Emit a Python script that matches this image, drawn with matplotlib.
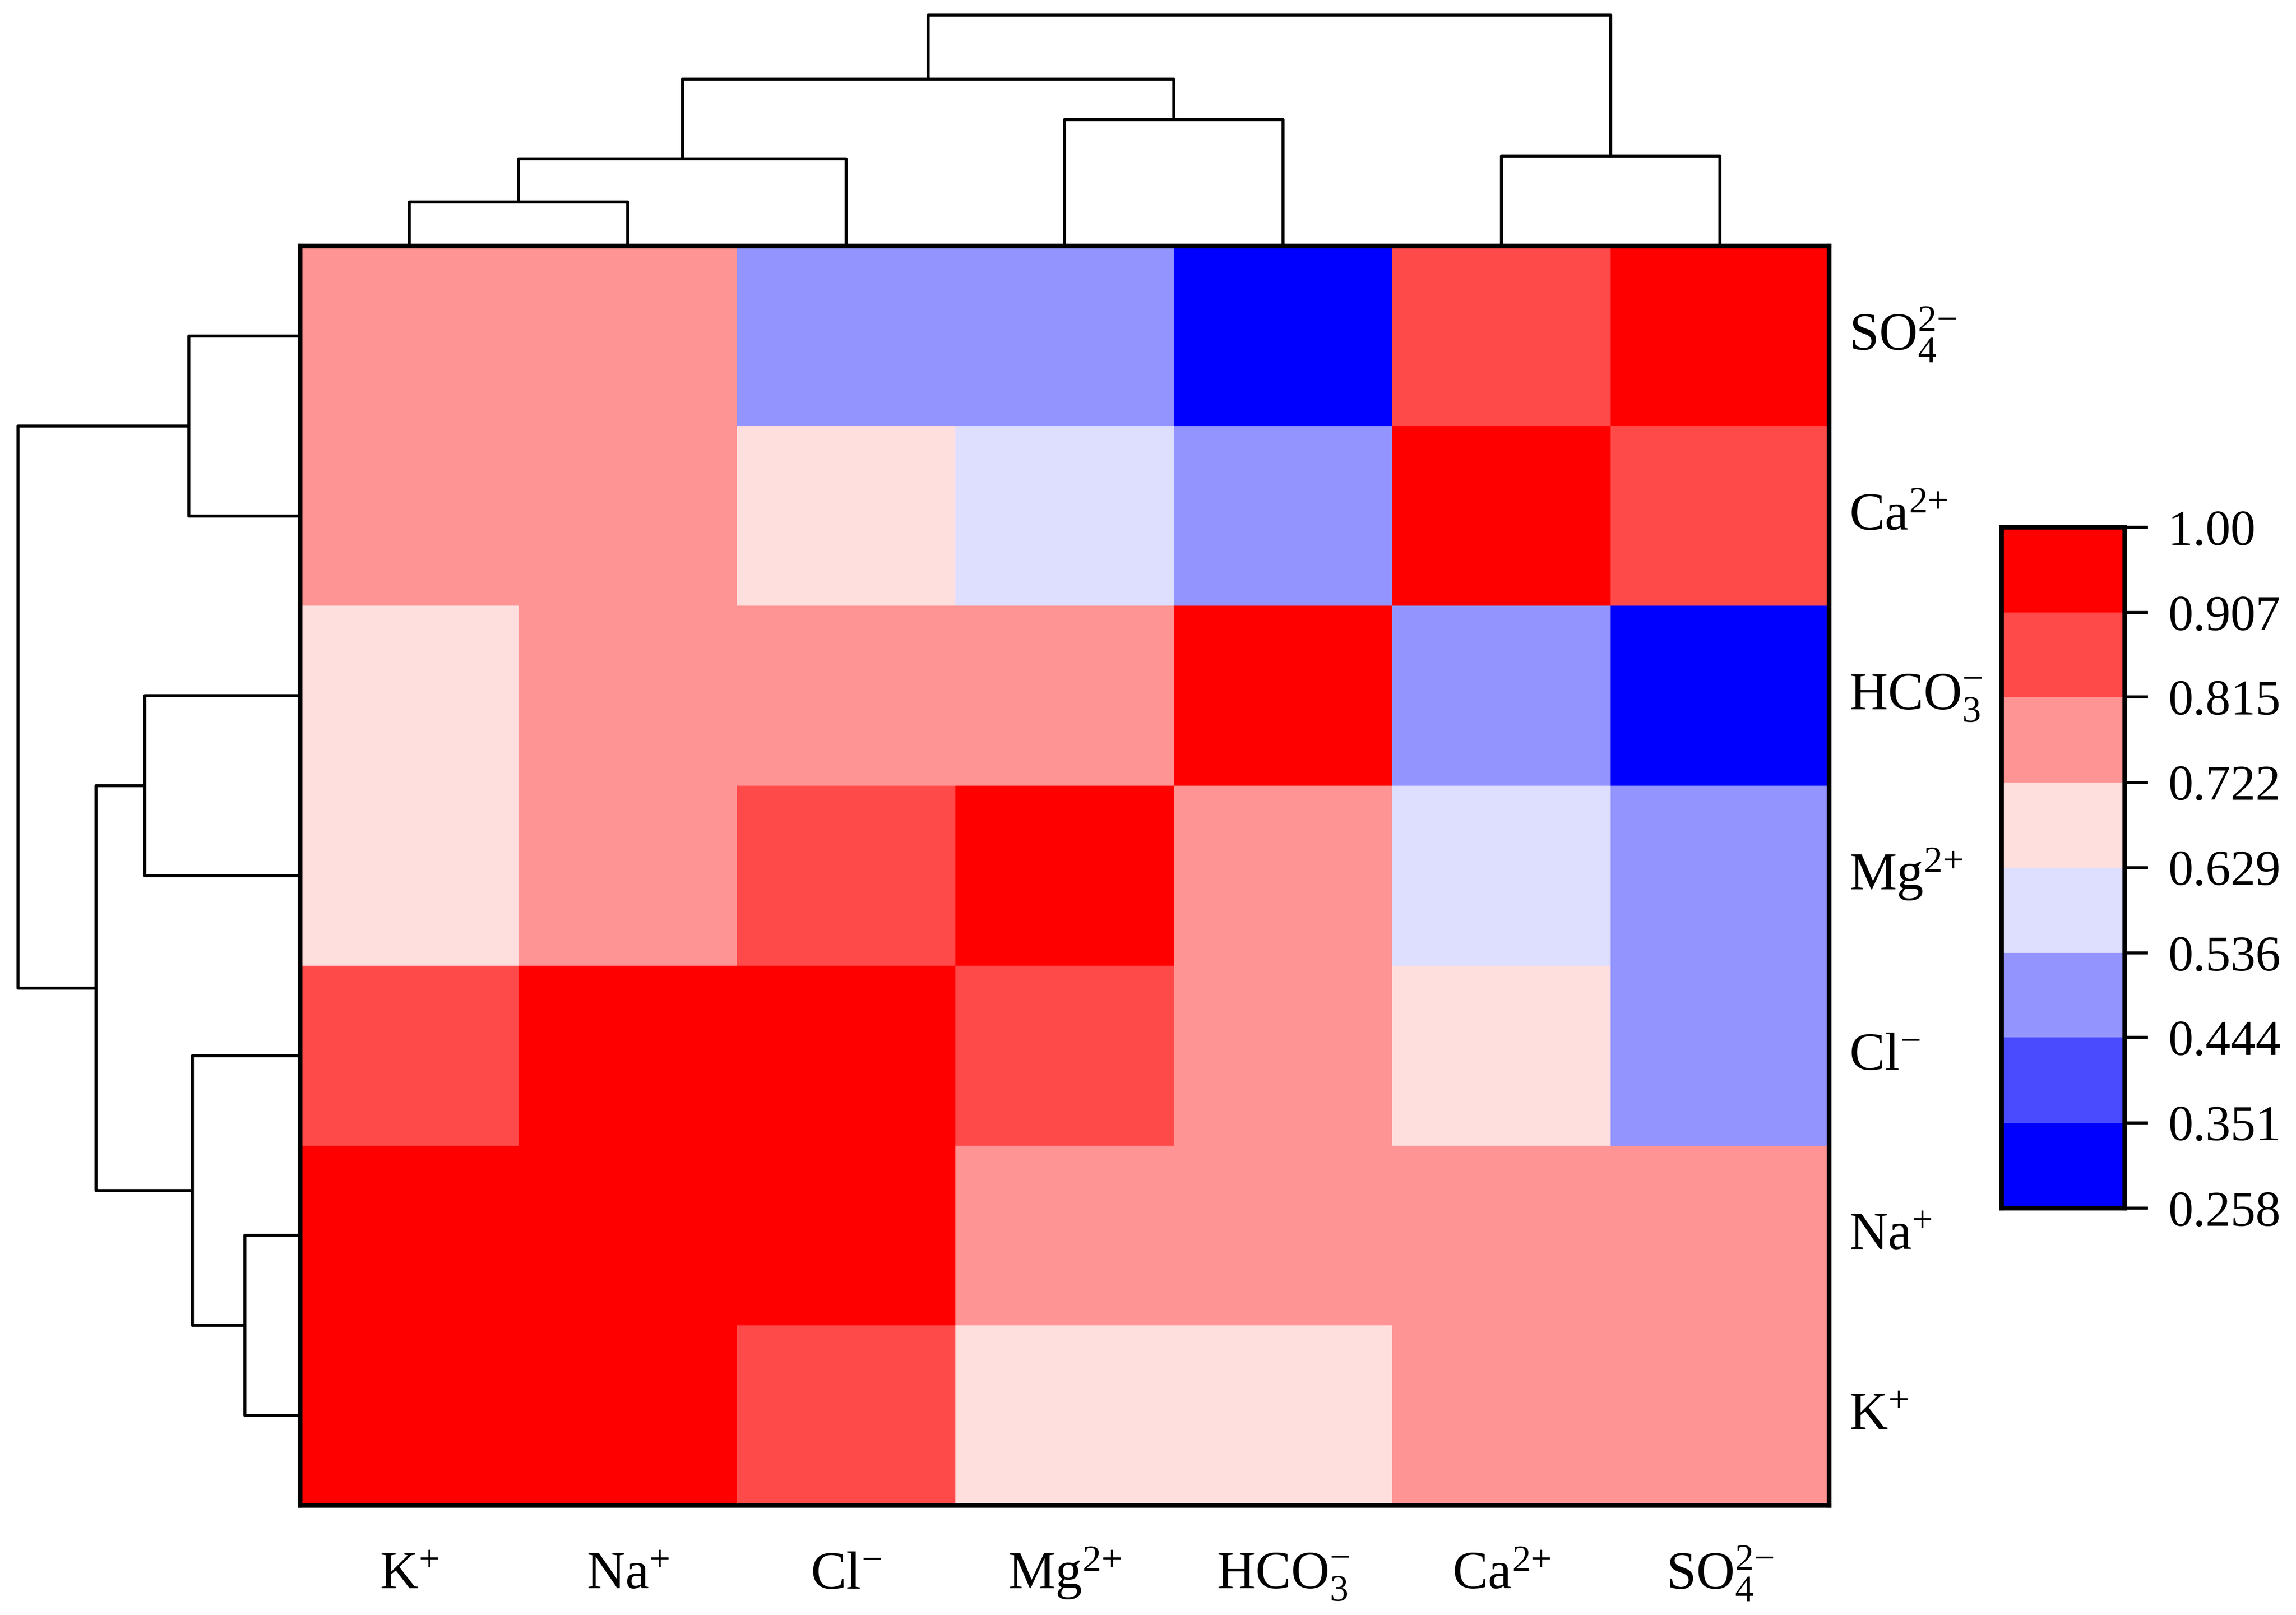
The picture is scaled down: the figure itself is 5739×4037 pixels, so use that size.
import matplotlib
matplotlib.use("Agg")
import matplotlib.pyplot as plt
import numpy as np
from matplotlib.colors import ListedColormap, BoundaryNorm

plt.rcParams['font.family'] = ['Liberation Serif', 'DejaVu Serif']
plt.rcParams['mathtext.fontset'] = 'custom'
plt.rcParams['mathtext.rm'] = 'Liberation Serif'
plt.rcParams['mathtext.it'] = 'Liberation Serif:italic'
plt.rcParams['mathtext.bf'] = 'Liberation Serif:bold'

# ---- data ----
col_labels = [r'K$^{{+}}$', r'Na$^{{+}}$', r'Cl$^{{-}}$', r'Mg$^{2{+}}$', r'HCO$_{3}^{{-}}$', r'Ca$^{2{+}}$', r'SO$_{4}^{2{-}}$']
row_labels = [r'SO$_{4}^{2{-}}$', r'Ca$^{2{+}}$', r'HCO$_{3}^{{-}}$', r'Mg$^{2{+}}$', r'Cl$^{{-}}$', r'Na$^{{+}}$', r'K$^{{+}}$']

row_SO4 = [0.77, 0.77, 0.49, 0.49, 0.28, 0.86, 1.00]
row_Ca = [0.77, 0.77, 0.68, 0.58, 0.49, 1.00, 0.86]
row_HCO3 = [0.68, 0.77, 0.77, 0.77, 1.00, 0.49, 0.28]
row_Mg = [0.68, 0.77, 0.86, 1.00, 0.77, 0.58, 0.49]
row_Cl = [0.86, 0.95, 1.00, 0.86, 0.77, 0.68, 0.49]
row_Na = [0.95, 1.00, 0.95, 0.77, 0.77, 0.77, 0.77]
row_K = [1.00, 0.95, 0.86, 0.68, 0.68, 0.77, 0.77]

cbar_bounds = [0.258, 0.351, 0.444, 0.536, 0.629, 0.722, 0.815, 0.907, 1.00]
cbar_ticklabels = ['0.258', '0.351', '0.444', '0.536', '0.629', '0.722', '0.815', '0.907', '1.00']
level_colors = ['#0000FF', '#4A4AFF', '#9494FF', '#DEDEFF', '#FFDEDE', '#FF9494', '#FF4A4A', '#FF0000']

# dendrogram merges: (child_a, child_b, height); leaves 0..6, new nodes 7..
top_merges = [(0, 1, 110), (7, 2, 218), (3, 4, 316), (8, 9, 417), (5, 6, 225), (10, 11, 577)]
left_merges = [(0, 1, 278), (2, 3, 388), (5, 6, 138), (4, 9, 269), (8, 10, 510), (7, 11, 705)]

# ---- figure ----
W, H = 5739, 4037
dpi = 600
fig = plt.figure(figsize=(W / dpi, H / dpi), dpi=dpi)

def fx(px):
    return px / W

def fy(py):
    return 1 - py / H

hx0, hx1, hy0, hy1 = 750, 4572, 615, 3763
ax = fig.add_axes([fx(hx0), fy(hy1), fx(hx1 - hx0), (hy1 - hy0) / H])

M = np.array([row_SO4, row_Ca, row_HCO3, row_Mg, row_Cl, row_Na, row_K])
cmap = ListedColormap(level_colors)
norm = BoundaryNorm(cbar_bounds, cmap.N)
n = len(col_labels)
ax.pcolormesh(np.arange(n + 1), np.arange(n + 1), M, cmap=cmap, norm=norm)
ax.set_xlim(0, n)
ax.set_ylim(n, 0)
ax.set_xticks([])
ax.set_yticks([])
for s in ax.spines.values():
    s.set_linewidth(1.4)
    s.set_color('black')

fs = 16
for i, lab in enumerate(col_labels):
    ax.annotate(lab, xy=(i + 0.5, 0), xycoords=('data', 'axes fraction'),
                xytext=(0, -25), textcoords='offset points', ha='center', va='baseline', fontsize=fs)
for j, lab in enumerate(row_labels):
    ax.annotate(lab, xy=(1, j + 0.5), xycoords=('axes fraction', 'data'),
                xytext=(6, -4.2), textcoords='offset points', ha='left', va='baseline', fontsize=fs)

def draw_dendro(axd, merges, nleaves, orient):
    pos = {i: i + 0.5 for i in range(nleaves)}
    hgt = {i: 0.0 for i in range(nleaves)}
    node = nleaves
    for a, b, h in merges:
        pa, pb = pos[a], pos[b]
        ha_, hb_ = hgt[a], hgt[b]
        if orient == 'top':
            axd.plot([pa, pa, pb, pb], [ha_, h, h, hb_], color='black', lw=0.9, solid_capstyle='butt')
        else:
            axd.plot([ha_, h, h, hb_], [pa, pa, pb, pb], color='black', lw=0.9, solid_capstyle='butt')
        pos[node] = (pa + pb) / 2
        hgt[node] = h
        node += 1

# top dendrogram
top_h = max(m[2] for m in top_merges)
axt = fig.add_axes([fx(hx0), fy(hy0), fx(hx1 - hx0), (top_h + 6) / H])
draw_dendro(axt, top_merges, n, 'top')
axt.set_xlim(0, n)
axt.set_ylim(0, top_h + 6)
axt.axis('off')

# left dendrogram
left_h = max(m[2] for m in left_merges)
axl = fig.add_axes([fx(hx0 - left_h - 6), fy(hy1), fx(left_h + 6), (hy1 - hy0) / H])
draw_dendro(axl, left_merges, n, 'left')
axl.set_ylim(n, 0)
axl.set_xlim(left_h + 6, 0)
axl.axis('off')

# colorbar
cx0, cx1, cy0, cy1 = 5003, 5311, 1318, 3020
axc = fig.add_axes([fx(cx0), fy(cy1), fx(cx1 - cx0), (cy1 - cy0) / H])
for k in range(len(level_colors)):
    axc.fill_between([0, 1], cbar_bounds[k], cbar_bounds[k + 1], color=level_colors[k], lw=0)
axc.set_xlim(0, 1)
axc.set_ylim(cbar_bounds[0], cbar_bounds[-1])
axc.set_xticks([])
axc.yaxis.tick_right()
axc.set_yticks(cbar_bounds)
axc.set_yticklabels(cbar_ticklabels, fontsize=15)
axc.tick_params(axis='y', length=7, width=0.9, pad=6)
for s in axc.spines.values():
    s.set_linewidth(1.4)

fig.savefig('out.png', dpi=dpi)
